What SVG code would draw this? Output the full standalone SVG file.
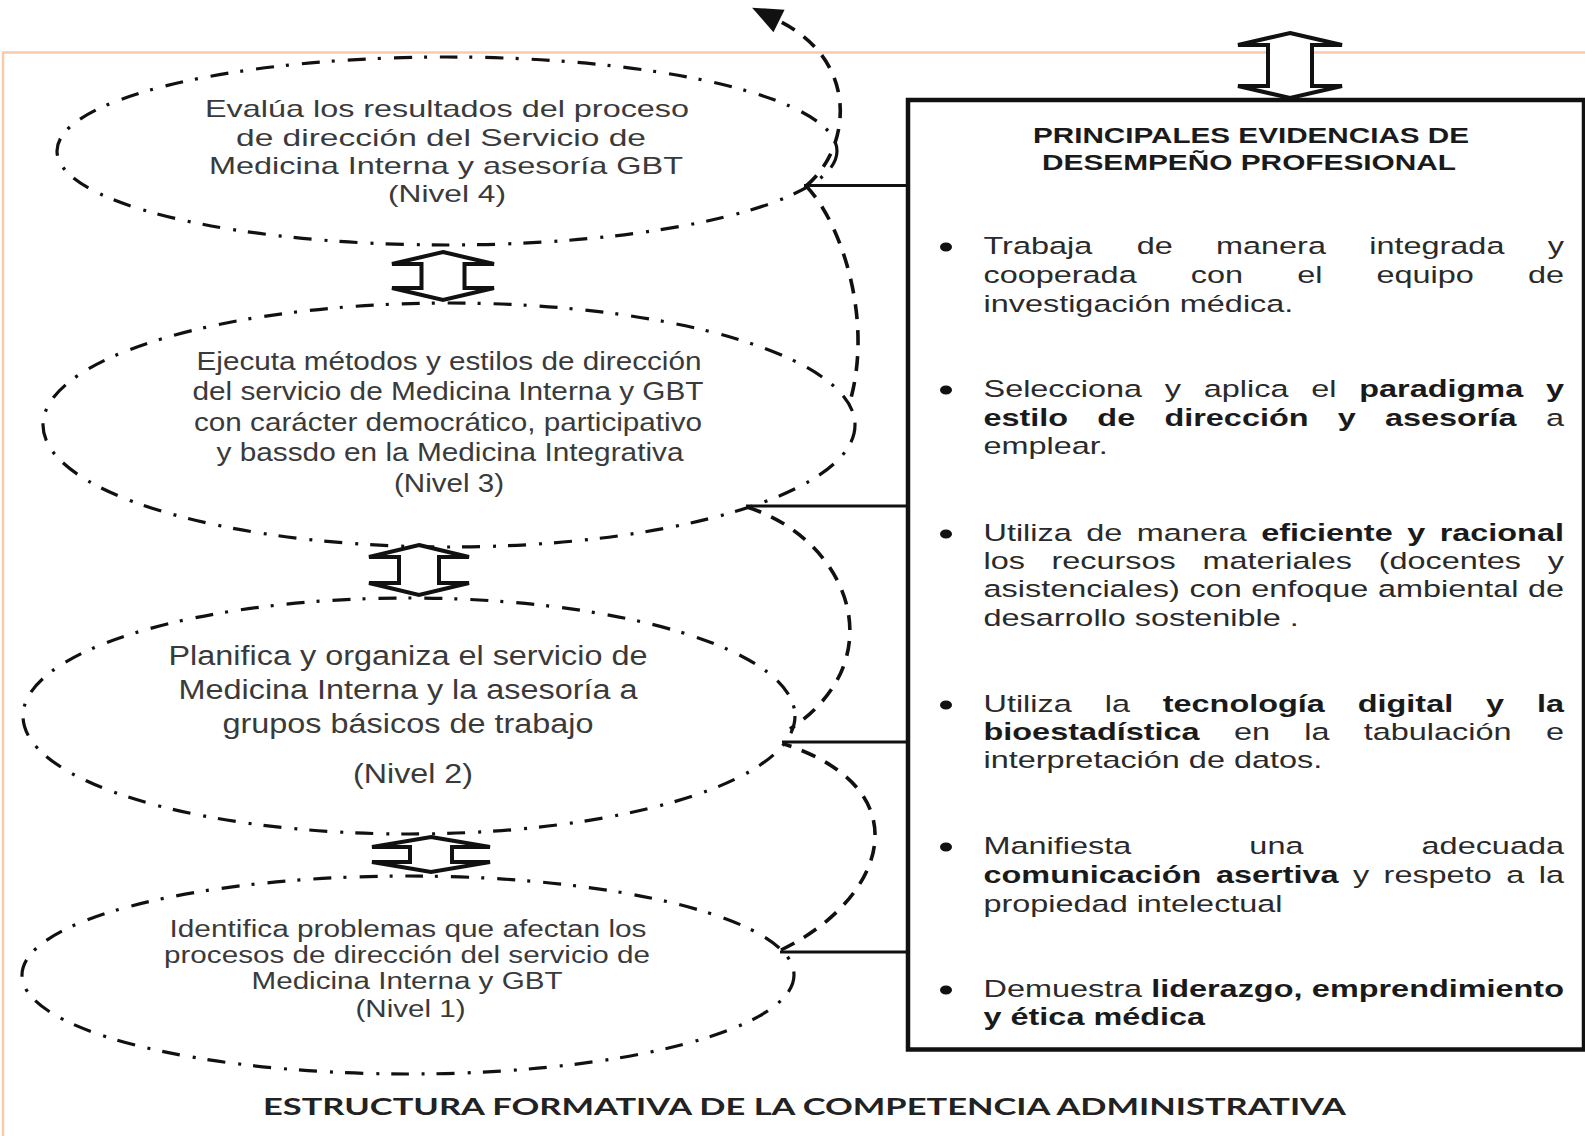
<svg xmlns="http://www.w3.org/2000/svg" width="1585" height="1136" viewBox="0 0 1585 1136">
<defs>
<style>
.ell{fill:none;stroke:#111;stroke-width:3.2;stroke-dasharray:18 12 3 13;}
.et{font-family:"Liberation Sans",Arial,sans-serif;fill:#3a3a3a;text-anchor:middle;}
.bt{font-family:"Liberation Sans",Arial,sans-serif;font-size:23.5px;fill:#2a2a2a;}
.b{font-weight:bold;fill:#1a1a1a;}
.e{text-anchor:end;}
.sp{fill:none;stroke:#111;stroke-width:3.6;stroke-dasharray:15 11;}
.ln{stroke:#111;stroke-width:3.2;}
.da{fill:#fff;stroke:#111;stroke-width:4;stroke-linejoin:miter;}
.frame{stroke:#F8CBAD;stroke-width:2.5;fill:none;}
.dot{fill:#111;}
</style>
<marker id="ah" markerUnits="userSpaceOnUse" markerWidth="34" markerHeight="30" viewBox="-2 -15 34 30" refX="0" refY="0" orient="auto">
<path d="M0,-12.5 L30,0 L0,12.5 Z" fill="#111"/>
</marker>
</defs>
<rect width="1585" height="1136" fill="#fff"/>
<path class="frame" d="M3,1136 V52.5 H1585"/>

<g id="nivel4">
<ellipse class="ell" cx="447" cy="151" rx="390" ry="94"/>
<text class="et" font-size="24" x="447" y="117" textLength="484" lengthAdjust="spacingAndGlyphs">Evalúa los resultados del proceso</text>
<text class="et" font-size="24" x="441" y="145.5" textLength="410" lengthAdjust="spacingAndGlyphs">de dirección del Servicio de</text>
<text class="et" font-size="24" x="446" y="174" textLength="474" lengthAdjust="spacingAndGlyphs">Medicina Interna y asesoría GBT</text>
<text class="et" font-size="24" x="447" y="202" textLength="118" lengthAdjust="spacingAndGlyphs">(Nivel 4)</text>
</g>

<g id="nivel3">
<ellipse class="ell" cx="449" cy="425" rx="406" ry="122"/>
<text class="et" font-size="25" x="449" y="370" textLength="505" lengthAdjust="spacingAndGlyphs">Ejecuta métodos y estilos de dirección</text>
<text class="et" font-size="25" x="448" y="400" textLength="511" lengthAdjust="spacingAndGlyphs">del servicio de Medicina Interna y GBT</text>
<text class="et" font-size="25" x="448" y="430.5" textLength="508" lengthAdjust="spacingAndGlyphs">con carácter democrático, participativo</text>
<text class="et" font-size="25" x="450" y="461" textLength="467" lengthAdjust="spacingAndGlyphs">y bassdo en la Medicina Integrativa</text>
<text class="et" font-size="25" x="449" y="492" textLength="110" lengthAdjust="spacingAndGlyphs">(Nivel 3)</text>
</g>

<g id="nivel2">
<ellipse class="ell" cx="409" cy="716" rx="386" ry="118"/>
<text class="et" font-size="27" x="408" y="665" textLength="479" lengthAdjust="spacingAndGlyphs">Planifica y organiza el servicio de</text>
<text class="et" font-size="27" x="408" y="699" textLength="459" lengthAdjust="spacingAndGlyphs">Medicina Interna y la asesoría a</text>
<text class="et" font-size="27" x="408" y="733" textLength="371" lengthAdjust="spacingAndGlyphs">grupos básicos de trabajo</text>
<text class="et" font-size="27" x="413" y="783" textLength="120" lengthAdjust="spacingAndGlyphs">(Nivel 2)</text>
</g>

<g id="nivel1">
<ellipse class="ell" cx="408" cy="975" rx="386" ry="99"/>
<text class="et" font-size="23.5" x="408" y="937" textLength="477" lengthAdjust="spacingAndGlyphs">Identifica problemas que afectan los</text>
<text class="et" font-size="23.5" x="407" y="963" textLength="486" lengthAdjust="spacingAndGlyphs">procesos de dirección del servicio de</text>
<text class="et" font-size="23.5" x="407" y="989" textLength="311" lengthAdjust="spacingAndGlyphs">Medicina Interna y GBT</text>
<text class="et" font-size="23.5" x="410.5" y="1017" textLength="110" lengthAdjust="spacingAndGlyphs">(Nivel 1)</text>
</g>

<g id="evidencias">
<rect x="908" y="100" width="676" height="949.5" fill="none" stroke="#111" stroke-width="4.5"/>
<text class="et b" font-size="22" x="1251" y="143" textLength="436" lengthAdjust="spacingAndGlyphs">PRINCIPALES EVIDENCIAS DE</text>
<text class="et b" font-size="22" x="1249" y="170" textLength="414" lengthAdjust="spacingAndGlyphs">DESEMPEÑO PROFESIONAL</text>
<ellipse class="dot" cx="946" cy="247" rx="6" ry="4.5"/>
<ellipse class="dot" cx="946" cy="390" rx="6" ry="4.5"/>
<ellipse class="dot" cx="946" cy="534" rx="6" ry="4.5"/>
<ellipse class="dot" cx="946" cy="705" rx="6" ry="4.5"/>
<ellipse class="dot" cx="946" cy="847" rx="6" ry="4.5"/>
<ellipse class="dot" cx="946" cy="990" rx="6" ry="4.5"/>
<g transform="scale(1.38,1)" class="bt">
<text y="254"><tspan x="712.7">Trabaja</tspan><tspan x="823.75">de</tspan><tspan x="881.2">manera</tspan><tspan x="992.25">integrada</tspan><tspan class="e" x="1133.3">y</tspan></text>
<text y="283"><tspan x="712.7">cooperada</tspan><tspan x="862.9">con</tspan><tspan x="940">el</tspan><tspan x="997.5">equipo</tspan><tspan class="e" x="1133.3">de</tspan></text>
<text y="312" x="712.7">investigación médica.</text>

<text y="397"><tspan x="712.7">Selecciona</tspan><tspan x="844.1">y</tspan><tspan x="872.3">aplica</tspan><tspan x="950.2">el</tspan><tspan class="b" x="985">paradigma</tspan><tspan class="b e" x="1133.3">y</tspan></text>
<text y="426"><tspan class="b" x="712.7">estilo</tspan><tspan class="b" x="795.2">de</tspan><tspan class="b" x="843.8">dirección</tspan><tspan class="b" x="969.4">y</tspan><tspan class="b" x="1003.6">asesoría</tspan><tspan class="e" x="1133.3">a</tspan></text>
<text y="454" x="712.7">emplear.</text>

<text y="541"><tspan x="712.7">Utiliza</tspan><tspan x="787.2">de</tspan><tspan x="823.8">manera</tspan><tspan class="b" x="913.9">eficiente</tspan><tspan class="b" x="1019.7">y</tspan><tspan class="b e" x="1133.3">racional</tspan></text>
<text y="569"><tspan x="712.7">los</tspan><tspan x="762">recursos</tspan><tspan x="871.4">materiales</tspan><tspan x="999.1">(docentes</tspan><tspan class="e" x="1133.3">y</tspan></text>
<text y="597"><tspan x="712.7">asistenciales)</tspan><tspan x="861.95">con</tspan><tspan x="906.7">enfoque</tspan><tspan x="998.5">ambiental</tspan><tspan class="e" x="1133.3">de</tspan></text>
<text y="626" x="712.7">desarrollo sostenible .</text>

<text y="712"><tspan x="712.7">Utiliza</tspan><tspan x="800.5">la</tspan><tspan class="b" x="842.6">tecnología</tspan><tspan class="b" x="983.9">digital</tspan><tspan class="b" x="1076.9">y</tspan><tspan class="b e" x="1133.3">la</tspan></text>
<text y="740"><tspan class="b" x="712.7">bioestadística</tspan><tspan x="894.2">en</tspan><tspan x="945.1">la</tspan><tspan x="988.2">tabulación</tspan><tspan class="e" x="1133.3">e</tspan></text>
<text y="768" x="712.7">interpretación de datos.</text>

<text y="854"><tspan x="712.7">Manifiesta</tspan><tspan x="905.35">una</tspan><tspan class="e" x="1133.3">adecuada</tspan></text>
<text y="883"><tspan class="b" x="712.7">comunicación</tspan><tspan class="b" x="881.15">asertiva</tspan><tspan x="980.4">y</tspan><tspan x="1002.6">respeto</tspan><tspan x="1091.45">a</tspan><tspan class="e" x="1133.3">la</tspan></text>
<text y="912" x="712.7">propiedad intelectual</text>

<text y="997"><tspan x="712.7">Demuestra</tspan><tspan class="b" x="834.2">liderazgo,</tspan><tspan class="b e" x="1133.3">emprendimiento</tspan></text>
<text y="1025" x="712.7" class="b">y ética médica</text>
</g>
</g>

<g id="connectors">
<line class="ln" x1="804" y1="185.5" x2="907" y2="185.5"/>
<line class="ln" x1="746" y1="506" x2="907" y2="506"/>
<line class="ln" x1="782" y1="742" x2="907" y2="742"/>
<line class="ln" x1="780" y1="952" x2="907" y2="952"/>
<path class="sp" d="M781,950 C885,900 925,790 784,744"/>
<path class="sp" d="M747,507 C850,540 895,660 790,729"/>
<path class="sp" d="M806,186 C840,220 875,320 849,405"/>
<path class="sp" d="M806,186 C850,150 862,62 779,21" marker-end="url(#ah)"/>
<path class="da" d="M1290,33 L1342,45 L1312,45 L1312,86 L1342,86 L1290,98 L1238,86 L1268,86 L1268,45 L1238,45 Z"/>
<path class="da" d="M443,252 L494,264 L464.5,264 L464.5,288 L494,288 L443,300 L392,288 L421.5,288 L421.5,264 L392,264 Z"/>
<path class="da" d="M419,545 L469,557 L439,557 L439,583 L469,583 L419,595 L369,583 L399,583 L399,557 L369,557 Z"/>
<path class="da" d="M431,837 L490,847 L452,847 L452,862 L490,862 L431,872 L372,862 L410,862 L410,847 L372,847 Z"/>
</g>

<text x="804.5" y="1115" font-family="Lato,'Liberation Sans',sans-serif" font-weight="bold" font-size="22" fill="#222" text-anchor="middle" textLength="1083" lengthAdjust="spacingAndGlyphs">ESTRUCTURA FORMATIVA DE LA COMPETENCIA ADMINISTRATIVA</text>
</svg>
